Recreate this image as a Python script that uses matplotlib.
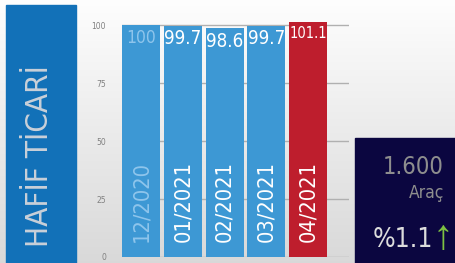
import numpy as np
import matplotlib
matplotlib.use('Agg')
import matplotlib.pyplot as plt
from matplotlib import font_manager
from matplotlib.font_manager import FontProperties
from matplotlib.patches import Rectangle

categories = ['12/2020', '01/2021', '02/2021', '03/2021', '04/2021']
values = [100, 99.7, 98.6, 99.7, 101.1]
value_labels = ['100', '99.7', '98.6', '99.7', '101.1']
yticks = [0, 25, 50, 75, 100]
title = 'HAFİF TİCARİ'
total = '1.600'
unit = 'Araç'
change = '%1.1'
arrow = '↑'

# pick a condensed font if one is installed
def _w(f):
    w = f.weight
    if isinstance(w, str):
        return {'normal': 400, 'regular': 400, 'book': 400}.get(w, 700 if 'bold' in w else 400 if w in ('medium',) else 300)
    return w

cands = []
for f in font_manager.fontManager.ttflist:
    if f.style != 'normal':
        continue
    nm = f.name.lower()
    st = str(f.stretch)
    score = None
    if 'narrow' in nm or 'condensed' in nm:
        score = 1
    elif st in ('condensed', 'semi-condensed', 'extra-condensed'):
        score = {'condensed': 0, 'semi-condensed': 2, 'extra-condensed': 3}[st]
    if score is None:
        continue
    score = score * 1000 + abs(_w(f) - 400)
    cands.append((score, f.fname, f.name))
cands.sort()
if cands:
    FP = lambda size: FontProperties(fname=cands[0][1], size=size)
    SCALE = 1.0
else:
    FP = lambda size: FontProperties(family='Liberation Sans', size=size)
    SCALE = 0.85

W, H = 455, 263
fig = plt.figure(figsize=(W / 100, H / 100), dpi=100)

def fx(px):
    return px / W

def fy(py):
    return 1 - py / H

# background gradient
bg = fig.add_axes([0, 0, 1, 1])
bg.set_axis_off()
t = np.linspace(0, 1, 256)[:, None]
top = np.array([0.995, 0.995, 0.995])
bot = np.array([0.85, 0.85, 0.85])
img = top[None, None, :] * (1 - t[:, :, None]) + bot[None, None, :] * t[:, :, None]
img = np.repeat(img, 4, axis=1)
bg.imshow(img, extent=[0, 1, 0, 1], aspect='auto', zorder=0)
bg.set_xlim(0, 1)
bg.set_ylim(0, 1)

# left blue panel
bg.add_patch(Rectangle((fx(6), 0), fx(70), fy(5), color='#1271b8', zorder=2))
bg.text(fx(40), fy(156), title, rotation=90, ha='center', va='center',
        fontproperties=FP(22.5 * SCALE), color='#c9d0d9', zorder=3)

# main chart
ax = fig.add_axes([fx(122), fy(257), fx(349 - 122), (257 - 20.4) / H])
ax.patch.set_alpha(0)
colors = ['#3d98d4'] * 4 + ['#be1e2d']
x = np.arange(len(categories))
ax.bar(x, values, width=0.91, color=colors, zorder=3)
ax.set_xlim(-0.455, 4.98)
ax.set_ylim(0, 102)
ax.set_yticks(yticks)
ax.set_yticklabels([str(v) for v in yticks])
ax.yaxis.grid(True, color='#b0b0b0', lw=1)
ax.set_axisbelow(True)
ax.set_xticks([])
for s in ax.spines.values():
    s.set_visible(False)
ax.tick_params(axis='y', length=0, pad=11.5, labelsize=5.5, labelcolor='#808080')

val_sizes = [12.5, 13.5, 13.5, 13.5, 10.5]
label_colors = ['#8ec5ec'] + ['white'] * 4
for i, (v, lab) in enumerate(zip(values, value_labels)):
    ax.annotate(lab, (i, v), xytext=(0, -2.5), textcoords='offset points',
                ha='center', va='top', fontproperties=FP(val_sizes[i] * SCALE),
                color=label_colors[i], zorder=4)
    ax.text(i, 6.5, categories[i], rotation=90, ha='center', va='bottom',
            fontproperties=FP(15.7 * SCALE), color=label_colors[i], zorder=4)

# navy info box
ov = fig.add_axes([0, 0, 1, 1])
ov.set_axis_off()
ov.patch.set_alpha(0)
ov.set_xlim(0, 1)
ov.set_ylim(0, 1)
ov.add_patch(Rectangle((fx(355), 0), fx(100), fy(138), color='#0b0640'))
ov.text(fx(444), fy(167), total, ha='right', va='center',
        fontproperties=FP(17), color='#8e8e8e')
ov.text(fx(444), fy(193), unit, ha='right', va='center',
        fontproperties=FP(12.5), color='#8e8e8e')
ov.text(fx(432.5), fy(240), change, ha='right', va='center',
        fontproperties=FP(19), color='#dcdcdc')
ov.text(fx(433), fy(238.5), arrow, ha='left', va='center', fontsize=30,
        family=['Liberation Sans', 'DejaVu Sans'], color='#7dc142')

fig.savefig('out.png', dpi=100)
